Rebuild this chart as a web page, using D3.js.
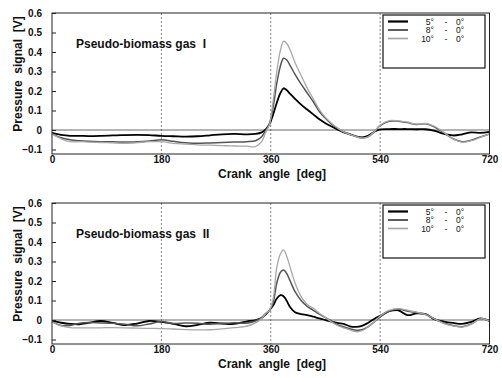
<!DOCTYPE html>
<html>
<head>
<meta charset="utf-8">
<script src="https://cdn.jsdelivr.net/npm/d3@7"></script>
<style>
  body { margin: 0; background: #fff; }
  svg text { font-family: "Liberation Sans", Arial, sans-serif; font-weight: bold; fill: #111; white-space: pre; }
</style>
</head>
<body>
<svg id="chart" width="502" height="378"></svg>
<script>
// crank angle samples (deg), shared by every trace
const angles = [0, 15, 30, 45, 60, 80, 100, 120, 140, 160, 180, 200, 220, 240, 260, 280, 300, 320, 335, 345,
  352, 358, 364, 370, 376, 381, 386, 392, 400, 410, 420, 430, 440, 450, 460, 470, 480, 490, 500, 510,
  520, 530, 540, 555, 570, 585, 600, 615, 630, 645, 660, 675, 690, 705, 720];

const seriesNames = ["5°", "8°", "10°"];
const xTicks = [0, 180, 360, 540, 720];
const yTicks = [-0.1, 0, 0.1, 0.2, 0.3, 0.4, 0.5, 0.6];
const gridAngles = [180, 360, 540];
const panelTitles = ["Pseudo-biomass gas  I", "Pseudo-biomass gas  II"];

// Pseudo-biomass gas I
const gas1_5 = [-0.015, -0.025, -0.03, -0.03, -0.031, -0.03, -0.028, -0.026, -0.025, -0.026, -0.03, -0.032, -0.034, -0.032, -0.027, -0.022, -0.02, -0.022, -0.02, -0.012,
  0.005, 0.03, 0.08, 0.14, 0.19, 0.214, 0.205, 0.185, 0.16, 0.13, 0.105, 0.08, 0.055, 0.035, 0.018, 0.002, -0.012, -0.022, -0.032, -0.038,
  -0.03, -0.01, 0.003, 0.005, 0.005, 0.005, 0.004, 0.004, -0.005, -0.02, -0.028, -0.022, -0.012, -0.015, -0.01];
const gas1_8 = [-0.02, -0.04, -0.05, -0.055, -0.058, -0.06, -0.06, -0.062, -0.06, -0.056, -0.05, -0.058, -0.065, -0.068, -0.066, -0.064, -0.062, -0.06, -0.055, -0.035,
  0.0, 0.035, 0.12, 0.24, 0.33, 0.368, 0.36, 0.33, 0.285, 0.235, 0.19, 0.145, 0.095, 0.06, 0.03, 0.008, -0.01, -0.02, -0.032, -0.04,
  -0.035, -0.01, 0.022, 0.045, 0.045, 0.038, 0.028, 0.032, 0.015, -0.015, -0.045, -0.06, -0.052, -0.035, -0.02];
const gas1_10 = [-0.02, -0.045, -0.06, -0.06, -0.062, -0.064, -0.066, -0.068, -0.065, -0.06, -0.06, -0.068, -0.072, -0.076, -0.078, -0.08, -0.082, -0.083, -0.085, -0.06,
  -0.01, 0.03, 0.15, 0.3, 0.41, 0.455, 0.445, 0.41, 0.345, 0.28, 0.215, 0.16, 0.105, 0.065, 0.035, 0.01, -0.01, -0.022, -0.034, -0.042,
  -0.035, -0.01, 0.025, 0.048, 0.047, 0.04, 0.03, 0.034, 0.018, -0.012, -0.045, -0.062, -0.055, -0.038, -0.02];

// Pseudo-biomass gas II
const gas2_5 = [-0.005, -0.014, -0.02, -0.022, -0.015, -0.005, -0.015, -0.026, -0.018, -0.005, -0.01, -0.02, -0.032, -0.025, -0.014, -0.018, -0.02, -0.008, 0.0, 0.01,
  0.03, 0.05, 0.075, 0.11, 0.127, 0.122, 0.1, 0.065, 0.04, 0.03, 0.025, 0.017, 0.008, 0.0, -0.008, -0.015, -0.02, -0.032, -0.035, -0.03,
  -0.015, 0.005, 0.022, 0.045, 0.05, 0.025, 0.034, 0.03, 0.003, -0.008, -0.015, -0.02, -0.01, 0.008, -0.005];
const gas2_8 = [-0.008, -0.028, -0.028, -0.016, -0.013, -0.015, -0.017, -0.022, -0.03, -0.02, -0.008, -0.018, -0.015, -0.016, -0.022, -0.018, -0.014, -0.016, -0.005, 0.012,
  0.035, 0.05, 0.09, 0.19, 0.245, 0.256, 0.24, 0.2, 0.145, 0.1, 0.07, 0.05, 0.03, 0.012, -0.005, -0.025, -0.035, -0.045, -0.052, -0.05,
  -0.035, -0.01, 0.015, 0.045, 0.056, 0.045, 0.038, 0.028, 0.005, -0.015, -0.028, -0.034, -0.02, 0.006, -0.005];
const gas2_10 = [-0.01, -0.03, -0.039, -0.04, -0.04, -0.04, -0.039, -0.04, -0.042, -0.043, -0.044, -0.046, -0.049, -0.051, -0.05, -0.045, -0.039, -0.032, -0.015, 0.008,
  0.035, 0.05, 0.11, 0.27, 0.34, 0.36, 0.33, 0.27, 0.19, 0.12, 0.08, 0.06, 0.035, 0.013, -0.01, -0.028, -0.04, -0.05, -0.06, -0.055,
  -0.035, -0.01, 0.02, 0.05, 0.058, 0.05, 0.04, 0.028, 0.005, -0.018, -0.03, -0.036, -0.022, 0.006, -0.005];

const panels = [
  { title: panelTitles[0], series: [gas1_5, gas1_8, gas1_10] },
  { title: panelTitles[1], series: [gas2_5, gas2_8, gas2_10] }
];

const colors = ["#000", "#555", "#a8a8a8"];
const widths = [1.8, 1.5, 1.3];

const svg = d3.select("#chart");
const left = 52, right = 489.5, panelH = 141;
const tops = [13, 203];

const x = d3.scaleLinear().domain([0, 720]).range([left, right]);

panels.forEach((p, pi) => {
  const top = tops[pi];
  const y = d3.scaleLinear().domain([-0.123, 0.6]).range([top + panelH, top]);
  const g = svg.append("g");

  // vertical dotted grid
  g.selectAll("line.grid").data(gridAngles).join("line")
    .attr("x1", d => x(d)).attr("x2", d => x(d))
    .attr("y1", top).attr("y2", top + panelH)
    .attr("stroke", "#666").attr("stroke-width", 0.8).attr("stroke-dasharray", "2,2");

  // zero line
  g.append("line")
    .attr("x1", left).attr("x2", right)
    .attr("y1", y(0)).attr("y2", y(0))
    .attr("stroke", "#444").attr("stroke-width", 0.8);

  // traces
  const line = d3.line()
    .x((d, i) => x(angles[i]))
    .y(d => y(d))
    .curve(d3.curveCatmullRom.alpha(0.5));

  p.series.forEach((vals, si) => {
    g.append("path")
      .datum(vals)
      .attr("d", line)
      .attr("fill", "none")
      .attr("stroke", colors[si])
      .attr("stroke-width", widths[si]);
  });

  // frame
  g.append("rect")
    .attr("x", left).attr("y", top)
    .attr("width", right - left).attr("height", panelH)
    .attr("fill", "none").attr("stroke", "#222").attr("stroke-width", 1);

  // y axis ticks (inward)
  const yAxis = d3.axisLeft(y).tickValues(yTicks).tickSize(-4).tickPadding(10)
    .tickFormat(d => d === 0 ? "0" : d3.format(".1f")(d));
  const ya = g.append("g").attr("transform", `translate(${left},0)`).call(yAxis);
  ya.select(".domain").remove();
  ya.selectAll("line").attr("stroke", "#222");
  ya.selectAll("text").style("font-size", "10px").attr("fill", "#111");

  // x axis labels
  const xAxis = d3.axisBottom(x).tickValues(xTicks).tickSize(0).tickPadding(2)
    .tickFormat(d3.format("d"));
  const xa = g.append("g").attr("transform", `translate(0,${top + panelH})`).call(xAxis);
  xa.select(".domain").remove();
  xa.selectAll("text").style("font-size", "10px").attr("fill", "#111");

  // axis titles
  g.append("text")
    .attr("x", 272).attr("y", top + panelH + 24)
    .attr("text-anchor", "middle")
    .style("font-size", "12px")
    .text("Crank  angle  [deg]");

  g.append("text")
    .attr("transform", `translate(22,${top + 61}) rotate(-90)`)
    .attr("text-anchor", "middle")
    .style("font-size", "12px")
    .text("Pressure  signal  [V]");

  // panel title
  g.append("text")
    .attr("x", 76).attr("y", top + 35)
    .style("font-size", "12px")
    .text(p.title);

  // legend
  const lg = g.append("g").attr("transform", `translate(383,${top + 2})`);
  lg.append("rect")
    .attr("width", 102).attr("height", 53)
    .attr("fill", "#fff").attr("stroke", "#111").attr("stroke-width", 1.2);
  seriesNames.forEach((name, si) => {
    const ry = 6.5 + si * 8.5;
    lg.append("line")
      .attr("x1", 5).attr("x2", 25)
      .attr("y1", ry).attr("y2", ry)
      .attr("stroke", colors[si]).attr("stroke-width", widths[si] + 0.4);
    lg.append("text").attr("x", 51).attr("y", ry + 3)
      .attr("text-anchor", "end").style("font-size", "8.5px").style("font-weight", "normal")
      .text(name);
    lg.append("text").attr("x", 63).attr("y", ry + 3)
      .attr("text-anchor", "middle").style("font-size", "8.5px").style("font-weight", "normal")
      .text("-");
    lg.append("text").attr("x", 73).attr("y", ry + 3)
      .style("font-size", "8.5px").style("font-weight", "normal")
      .text("0°");
  });
});
</script>
</body>
</html>
